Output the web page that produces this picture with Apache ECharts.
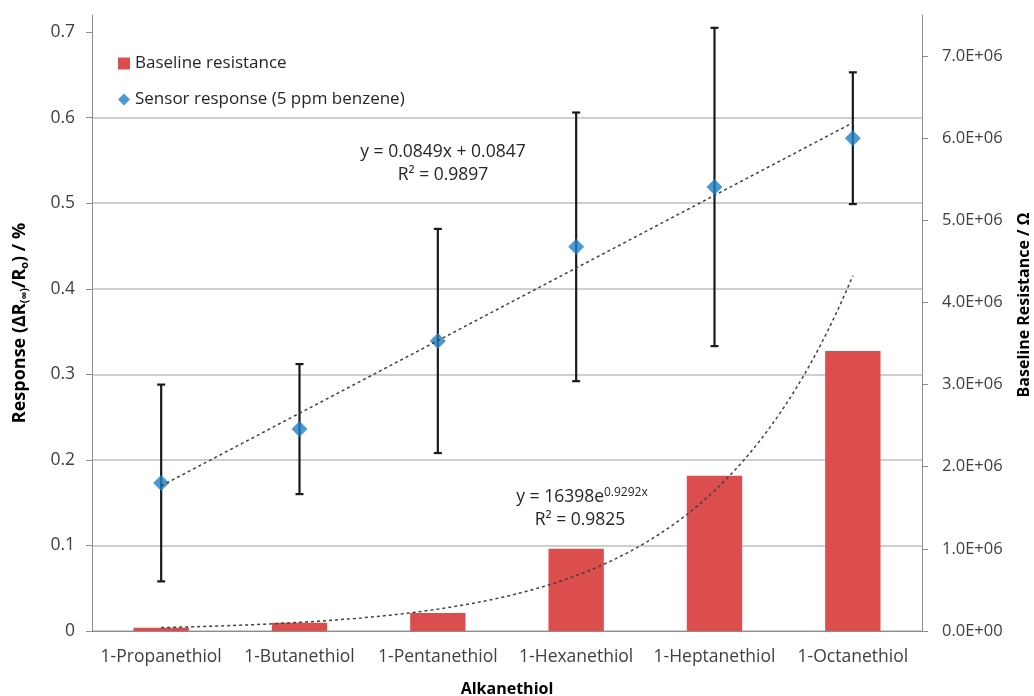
<!DOCTYPE html>
<html>
<head>
<meta charset="utf-8">
<script src="https://cdn.jsdelivr.net/npm/echarts@6/dist/echarts.min.js"></script>
<style>
html,body{margin:0;padding:0;background:#fff;}
#chart{width:1034px;height:696px;}
</style>
</head>
<body>
<div id="chart"></div>
<script>
// ---- data ----
const categories = ['1-Propanethiol', '1-Butanethiol', '1-Pentanethiol', '1-Hexanethiol', '1-Heptanethiol', '1-Octanethiol'];
const baselineResistance = [40000, 100000, 220000, 1000000, 1890000, 3410000];
const sensorResponse = [0.173, 0.236, 0.339, 0.449, 0.519, 0.576];
const responseError = [0.115, 0.076, 0.131, 0.157, 0.186, 0.077];
const leftTicks = [0, 0.1, 0.2, 0.3, 0.4, 0.5, 0.6, 0.7];
const rightTicks = [0, 1e6, 2e6, 3e6, 4e6, 5e6, 6e6, 7e6];
// trendline coefficients as printed on the chart
const linSlope = 0.0849, linIntercept = 0.0847, linR2 = '0.9897';
const expA = 16398, expB = 0.9292, expR2 = '0.9825';

// ---- derived ----
const linTrend = [[1, linSlope * 1 + linIntercept], [categories.length, linSlope * categories.length + linIntercept]];
const expTrend = [];
for (let i = 0; i <= 100; i++) {
  const x = 1 + (categories.length - 1) * i / 100;
  expTrend.push([x, expA * Math.exp(expB * x)]);
}
const errData = sensorResponse.map((v, i) => [i, v - responseError[i], v + responseError[i]]);

const FONT = '"Open Sans"';
const chart = echarts.init(document.getElementById('chart'));
const gridColor = '#bfbfbf';
const axisColor = '#8c8c8c';
const labelColor = '#404040';
const annColor = '#262626';
const TS = 17.5;

chart.setOption({
  animation: false,
  textStyle: { fontFamily: FONT },
  grid: { left: 92, right: 112, top: 15, bottom: 65, outerBoundsMode: 'none', containLabel: false },
  legend: {
    orient: 'vertical',
    left: 113, top: 50,
    itemWidth: 12, itemHeight: 12, itemGap: 19,
    textStyle: { fontFamily: FONT, fontSize: 17, color: annColor },
    data: [
      { name: 'Baseline resistance', icon: 'rect' },
      { name: 'Sensor response (5 ppm benzene)', icon: 'diamond' }
    ]
  },
  xAxis: [
    {
      type: 'category', data: categories, boundaryGap: true,
      name: 'Alkanethiol', nameLocation: 'middle', nameGap: 50,
      nameTextStyle: { fontFamily: FONT, fontSize: 16, fontWeight: 'bold', color: '#000' },
      axisLine: { lineStyle: { color: axisColor, width: 1 } },
      axisTick: { length: 6, lineStyle: { color: axisColor } },
      axisLabel: { fontFamily: FONT, fontSize: TS, color: labelColor, margin: 17, interval: 0 },
      splitLine: { show: false }
    },
    { type: 'value', min: 0.5, max: 6.5, show: false }
  ],
  yAxis: [
    {
      type: 'value', min: 0, max: 0.72, interval: 0.1, position: 'left',
      name: 'Response (ΔR{sub|(∞)}/R{sub|o}) / %', nameLocation: 'middle', nameGap: 62, nameRotate: 90,
      nameTextStyle: {
        fontFamily: FONT, fontSize: 18, fontWeight: 'bold', color: '#000',
        rich: { sub: { fontFamily: FONT, fontSize: 11, fontWeight: 'bold', color: '#000', verticalAlign: 'bottom', padding: [9, 0, 0, 0] } }
      },
      axisLine: { show: true, lineStyle: { color: axisColor } },
      axisTick: { show: true, length: 6, lineStyle: { color: axisColor }, customValues: leftTicks },
      axisLabel: { fontFamily: FONT, fontSize: TS, color: labelColor, margin: 17, customValues: leftTicks },
      splitLine: { show: true, showMaxLine: false, lineStyle: { color: gridColor, width: 1.5 } }
    },
    {
      type: 'value', min: 0, max: 7.5e6, interval: 1e6, position: 'right',
      name: 'Baseline Resistance / Ω', nameLocation: 'middle', nameGap: 94, nameRotate: 90,
      nameTextStyle: { fontFamily: FONT, fontSize: 16, fontWeight: 'bold', color: '#000', padding: [0, 0, 0, 36] },
      axisLine: { show: true, lineStyle: { color: axisColor } },
      axisTick: { show: true, length: 6, lineStyle: { color: axisColor }, customValues: rightTicks },
      axisLabel: {
        fontFamily: FONT, fontSize: 16.5, color: labelColor, margin: 20, customValues: rightTicks,
        formatter: v => {
          const s = Number(v).toExponential(1).split('e');
          const e = parseInt(s[1], 10);
          return s[0] + 'E' + (e < 0 ? '-' : '+') + String(Math.abs(e)).padStart(2, '0');
        }
      },
      splitLine: { show: false }
    }
  ],
  graphic: [
    { type: 'text', x: 443, y: 152, style: { text: 'y = 0.0849x + 0.0847', align: 'center', verticalAlign: 'middle', fontFamily: FONT, fontSize: TS, fill: annColor } },
    { type: 'text', x: 443, y: 175, style: { text: 'R² = ' + linR2, align: 'center', verticalAlign: 'middle', fontFamily: FONT, fontSize: TS, fill: annColor } },
    { type: 'text', x: 582, y: 497, style: {
        text: 'y = 16398e{sup|0.9292x}', align: 'center', verticalAlign: 'middle', fontFamily: FONT, fontSize: TS, fill: annColor,
        rich: { sup: { fontFamily: FONT, fontSize: 12, fill: annColor, verticalAlign: 'top', padding: [0, 0, 9, 0] } }
      } },
    { type: 'text', x: 580, y: 520, style: { text: 'R² = ' + expR2, align: 'center', verticalAlign: 'middle', fontFamily: FONT, fontSize: TS, fill: annColor } }
  ],
  series: [
    {
      name: 'Baseline resistance', type: 'bar', xAxisIndex: 0, yAxisIndex: 1,
      data: baselineResistance, barWidth: '40%',
      itemStyle: { color: '#dc4d4d' }, z: 2
    },
    {
      name: 'exp trend', type: 'line', xAxisIndex: 1, yAxisIndex: 1,
      data: expTrend, showSymbol: false, silent: true, smooth: false,
      lineStyle: { color: '#404040', width: 1.5, type: [3, 3] }, z: 3
    },
    {
      name: 'error', type: 'custom', xAxisIndex: 0, yAxisIndex: 0, silent: true, z: 4,
      data: errData,
      renderItem: (params, api) => {
        const lo = api.coord([api.value(0), api.value(1)]);
        const hi = api.coord([api.value(0), api.value(2)]);
        const cap = 4;
        const st = { stroke: '#1a1a1a', lineWidth: 2.2 };
        return {
          type: 'group',
          children: [
            { type: 'line', shape: { x1: lo[0], y1: lo[1], x2: hi[0], y2: hi[1] }, style: st },
            { type: 'line', shape: { x1: lo[0] - cap, y1: lo[1], x2: lo[0] + cap, y2: lo[1] }, style: st },
            { type: 'line', shape: { x1: hi[0] - cap, y1: hi[1], x2: hi[0] + cap, y2: hi[1] }, style: st }
          ]
        };
      }
    },
    {
      name: 'Sensor response (5 ppm benzene)', type: 'scatter', xAxisIndex: 0, yAxisIndex: 0,
      data: sensorResponse, symbol: 'diamond', symbolSize: 16,
      itemStyle: { color: '#1f80c6' }, z: 5
    },
    {
      name: 'linear trend', type: 'line', xAxisIndex: 1, yAxisIndex: 0,
      data: linTrend, showSymbol: false, silent: true,
      lineStyle: { color: '#404040', width: 1.5, type: [3, 3] }, z: 6
    }
  ]
});
</script>
</body>
</html>
